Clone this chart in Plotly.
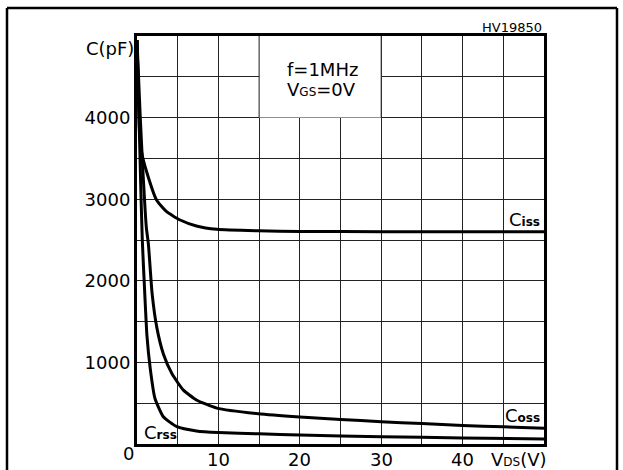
import plotly.graph_objects as go

# Data (V_DS in volts, C in pF)
ciss_v = [0.0, 0.15, 0.3, 0.6, 1.2, 2.4, 3.6, 5.3, 7.3, 9.8, 14.9, 20, 30, 40, 50]
ciss_c = [4950, 4350, 3850, 3560, 3330, 2990, 2850, 2745, 2672, 2631, 2612, 2605, 2602, 2600, 2600]

coss_v = [0.0, 0.4, 0.75, 1.15, 1.4, 1.85, 2.45, 3.25, 4.3, 5.7, 7.3, 9.8, 14.9, 20, 25, 30, 35, 40, 45, 50]
coss_c = [4950, 4000, 3300, 2650, 2450, 1850, 1420, 1100, 860, 660, 540, 440, 370, 330, 300, 274, 250, 228, 210, 192]

crss_v = [0.0, 0.25, 0.45, 0.65, 0.95, 1.22, 1.62, 2.2, 3.23, 4.9, 7.3, 10, 15, 20, 30, 40, 50]
crss_c = [4950, 4000, 3200, 2500, 1850, 1330, 930, 560, 334, 212, 160, 140, 125, 110, 90, 74, 60]

x_ticks = [0, 5, 10, 15, 20, 25, 30, 35, 40, 45, 50]
x_ticktext = ["", "", "10", "", "20", "", "30", "", "40", "", ""]
y_ticks = [0, 500, 1000, 1500, 2000, 2500, 3000, 3500, 4000, 4500, 5000]
y_ticktext = ["", "", "1000", "", "2000", "", "3000", "", "4000", "", ""]

FONT = "DejaVu Sans, sans-serif"

fig = go.Figure()
for v, c, name in [(ciss_v, ciss_c, "Ciss"), (coss_v, coss_c, "Coss"), (crss_v, crss_c, "Crss")]:
    fig.add_trace(go.Scatter(x=v, y=c, mode="lines", name=name,
                             line=dict(color="black", width=3, shape="spline", smoothing=0.5),
                             showlegend=False, hoverinfo="skip"))

W, H = 623, 470
L, R, T, B = 137, 79, 36, 26
pw, ph = W - L - R, H - T - B

def px(xp):
    return (xp - L) / pw

def py(yp):
    return (H - B - yp) / ph

fig.update_layout(
    width=W, height=H, autosize=False,
    margin=dict(l=L, r=R, t=T, b=B, autoexpand=False),
    paper_bgcolor="white", plot_bgcolor="white",
    font=dict(family=FONT, color="black", size=18),
    xaxis=dict(range=[0, 50], tickmode="array", tickvals=x_ticks, ticktext=x_ticktext,
               showticklabels=False,
               showgrid=True, gridcolor="#222", gridwidth=1, zeroline=False,
               showline=True, linecolor="black", linewidth=3, mirror=True, automargin=False,
               ticks=""),
    yaxis=dict(range=[0, 5000], tickmode="array", tickvals=y_ticks, ticktext=y_ticktext,
               showgrid=True, gridcolor="#222", gridwidth=1, zeroline=False,
               showline=True, linecolor="black", linewidth=3, mirror=True, automargin=False,
               ticks="", tickfont=dict(size=18, family=FONT, color="black")),
)

# white box behind the condition text
fig.add_shape(type="rect", xref="x", yref="y", x0=15, x1=30, y0=4000, y1=5000,
              fillcolor="white", line=dict(width=0), layer="between")
fig.add_shape(type="line", xref="x", yref="y", x0=15, x1=15, y0=4000, y1=5000,
              line=dict(color="#222", width=1), layer="between")
fig.add_shape(type="line", xref="x", yref="y", x0=30, x1=30, y0=4000, y1=5000,
              line=dict(color="#222", width=1), layer="between")

# outer frame
fig.add_shape(type="line", xref="paper", yref="paper", x0=px(7), x1=px(617), y0=py(8), y1=py(8),
              line=dict(color="black", width=2.5))
fig.add_shape(type="line", xref="paper", yref="paper", x0=px(7), x1=px(7), y0=py(8), y1=py(480),
              line=dict(color="black", width=2.5))
fig.add_shape(type="line", xref="paper", yref="paper", x0=px(617), x1=px(617), y0=py(8), y1=py(480),
              line=dict(color="black", width=2.5))

ann = []
# x tick labels (placed at the axis values, slightly raised so they stay inside the page)
for v, t in zip(x_ticks, x_ticktext):
    if t:
        ann.append(dict(text=t, x=v, y=py(459), xref="x", yref="paper", xanchor="center",
                        yanchor="middle", showarrow=False, font=dict(size=18)))
ann.append(dict(text="0", x=0, y=py(454), xref="x", yref="paper", xanchor="right", yanchor="middle",
                xshift=-1, showarrow=False, font=dict(size=18)))
ann.append(dict(text="C(pF)", x=px(136), y=py(48), xref="paper", yref="paper",
                xanchor="right", yanchor="middle", showarrow=False, font=dict(size=18)))
ann.append(dict(text="HV19850", x=px(544), y=py(27), xref="paper", yref="paper",
                xanchor="right", yanchor="middle", showarrow=False, font=dict(size=13)))
ann.append(dict(text="V<span style='font-size:12px'>DS</span>(V)", x=px(519), y=py(459),
                xref="paper", yref="paper", xanchor="center", yanchor="middle",
                showarrow=False, font=dict(size=18)))
ann.append(dict(text="f=1MHz", x=px(285), y=py(69), xref="paper", yref="paper",
                xanchor="left", yanchor="middle", showarrow=False, font=dict(size=18)))
ann.append(dict(text="V<span style='font-size:12px'>GS</span>=0V", x=px(285), y=py(90),
                xref="paper", yref="paper", xanchor="left", yanchor="middle",
                showarrow=False, font=dict(size=18)))
ann.append(dict(text="C<span style='font-size:12px'><b>iss</b></span>", x=px(542), y=py(220),
                xref="paper", yref="paper", xanchor="right", yanchor="middle",
                showarrow=False, font=dict(size=18)))
ann.append(dict(text="C<span style='font-size:12px'><b>oss</b></span>", x=px(542), y=py(415),
                xref="paper", yref="paper", xanchor="right", yanchor="middle",
                showarrow=False, font=dict(size=18)))
ann.append(dict(text="C<span style='font-size:12px'><b>rss</b></span>", x=px(142), y=py(432),
                xref="paper", yref="paper", xanchor="left", yanchor="middle",
                showarrow=False, font=dict(size=18)))
fig.update_layout(annotations=ann)

post = ("document.body.style.margin='0';document.body.style.padding='0';"
        "document.body.style.overflow='hidden';"
        "var gd=document.getElementById('{plot_id}');"
        "Plotly.relayout(gd,{width:623,height:470});")
fig.write_html("out.html", config={"displayModeBar": False, "responsive": False},
               post_script=post)
